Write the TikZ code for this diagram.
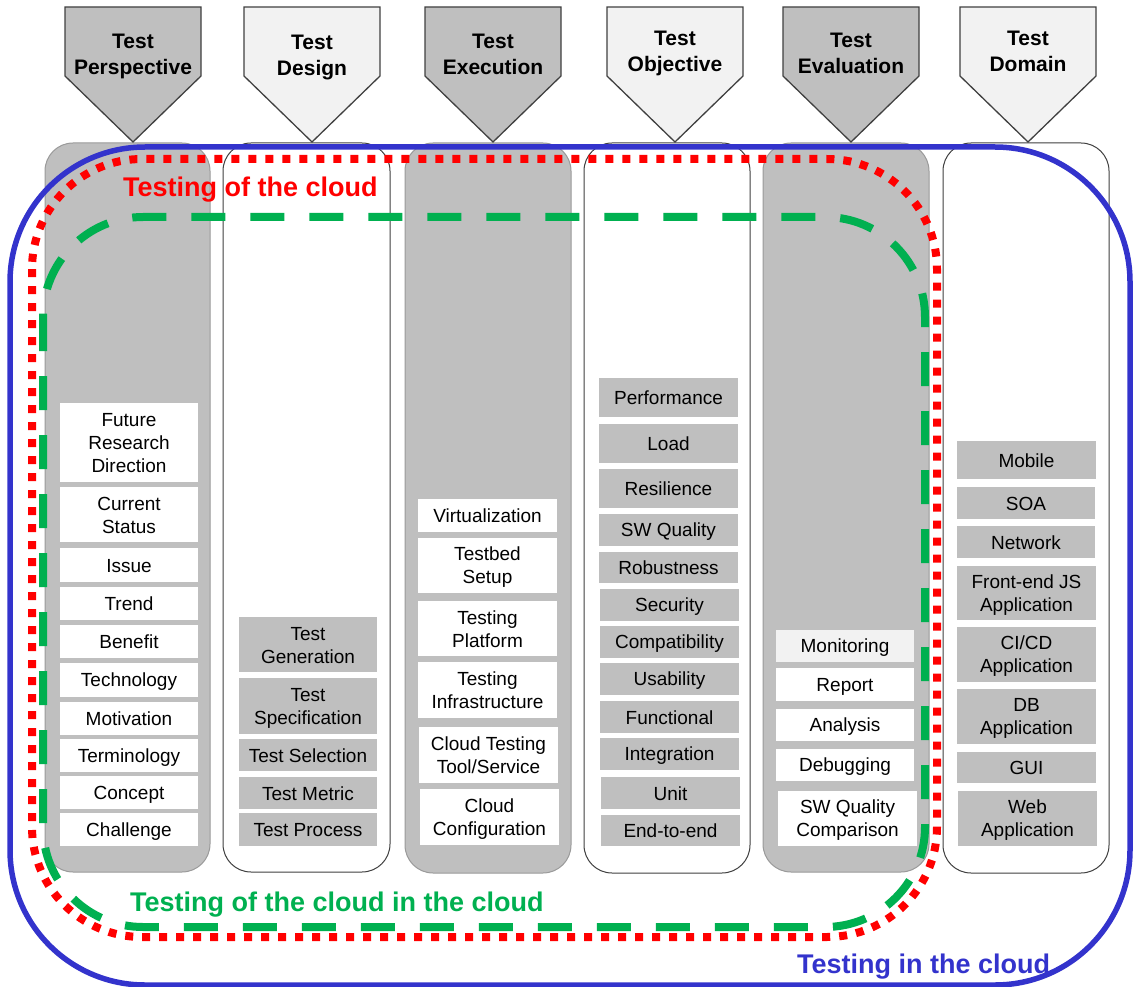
\documentclass[tikz,border=0pt]{standalone}
\usepackage{fontspec}
\setmainfont{Liberation Sans}
\definecolor{cgray}{HTML}{BFBFBF}
\definecolor{clight}{HTML}{F2F2F2}
\definecolor{cdark}{HTML}{404040}
\definecolor{cborder}{HTML}{9A9A9A}
\definecolor{cred}{HTML}{FF0000}
\definecolor{cgreen}{HTML}{00B050}
\definecolor{cblue}{HTML}{3333CC}
\newcommand\lst{\rule[-3pt]{0pt}{20pt}}
\newcommand\hst{\rule[-5pt]{0pt}{18pt}}
\newcommand\itm[7]{\node[#1, minimum width={(#4-#3)*1pt}, minimum height={(#6-#5)*1pt}] (#2) at ({(#3+#4)/2},{(#5+#6)/2}) {#7};}
\newcommand\hdr[5]{% name, tip x, fill, text, baseline of first line
  \draw[hdrshape, fill=#3] ({#2-68},7) -- ({#2+68},7) -- ({#2+68},76) -- (#2,142) -- ({#2-68},76) -- cycle;
  \node[hdrtext] (#1) at (#2,{#5+8.5}) {#4};}
\tikzset{
  itembase/.style={inner sep=0pt, align=center, font=\fontsize{19}{23}\selectfont, text=black},
  wbox/.style={itembase, fill=white},
  gbox/.style={itembase, fill=cgray},
  lbox/.style={itembase, fill=clight},
  hdrshape/.style={draw=cdark, line width=1.3pt, line join=miter},
  hdrtext/.style={align=center, inner sep=0pt, font=\fontsize{21}{26}\selectfont\bfseries},
  gcol/.style={draw=cborder, fill=cgray, line width=1pt, rounded corners=28pt},
  wcol/.style={draw=cdark, fill=white, line width=1pt, rounded corners=28pt},
  bigtext/.style={inner sep=0pt, anchor=base west, font=\fontsize{27}{30}\selectfont\bfseries},
}
\begin{document}
\begin{tikzpicture}[x=1pt,y=-1pt]
\useasboundingbox (0,0) rectangle (1135,987);
% columns
\draw[gcol] (45,143) rectangle (210,872);
\draw[wcol] (223,143) rectangle (390,872);
\draw[gcol] (405,143) rectangle (571,873);
\draw[wcol] (584,143) rectangle (750,873);
\draw[gcol] (763,143) rectangle (929,872);
\draw[wcol] (943,143) rectangle (1109,873);
% headers
\hdr{h1}{133}{cgray}{\hst Test\\\hst Perspective}{48}
\hdr{h2}{312}{clight}{\hst Test\\\hst Design}{49}
\hdr{h3}{493}{cgray}{\hst Test\\\hst Execution}{48}
\hdr{h4}{675}{clight}{\hst Test\\\hst Objective}{45}
\hdr{h5}{851}{cgray}{\hst Test\\\hst Evaluation}{47}
\hdr{h6}{1028}{clight}{\hst Test\\\hst Domain}{45}
% column 1
\itm{wbox}{p1}{60}{198}{403}{482}{\lst Future\\\lst Research\\\lst Direction}
\itm{wbox}{p2}{60}{198}{487}{542}{\lst Current\\\lst Status}
\itm{wbox}{p3}{60}{198}{548}{582}{\lst Issue}
\itm{wbox}{p4}{60}{198}{587}{620}{\lst Trend}
\itm{wbox}{p5}{60}{198}{625}{658}{\lst Benefit}
\itm{wbox}{p6}{60}{198}{663}{697}{\lst Technology}
\itm{wbox}{p7}{60}{198}{702}{735}{\lst Motivation}
\itm{wbox}{p8}{60}{198}{739}{772}{\lst Terminology}
\itm{wbox}{p9}{60}{198}{776}{809}{\lst Concept}
\itm{wbox}{p10}{60}{198}{813}{846}{\lst Challenge}
% column 2
\itm{gbox}{d1}{239}{377}{617}{672}{\lst Test\\\lst Generation}
\itm{gbox}{d2}{239}{377}{678}{734}{\lst Test\\\lst Specification}
\itm{gbox}{d3}{239}{377}{739}{771}{\lst Test Selection}
\itm{gbox}{d4}{239}{377}{777}{809}{\lst Test Metric}
\itm{gbox}{d5}{239}{377}{813}{846}{\lst Test Process}
% column 3
\itm{wbox}{e1}{418}{557}{499}{532}{\lst Virtualization}
\itm{wbox}{e2}{418}{557}{538}{593}{\lst Testbed\\\lst Setup}
\itm{wbox}{e3}{418}{557}{601}{656}{\lst Testing\\\lst Platform}
\itm{wbox}{e4}{418}{557}{662}{718}{\lst Testing\\\lst Infrastructure}
\itm{wbox}{e5}{419}{558}{727}{783}{\lst Cloud Testing\\\lst Tool/Service}
\itm{wbox}{e6}{420}{559}{789}{845}{\lst Cloud\\\lst Configuration}
% column 4
\itm{gbox}{o1}{599}{738}{378}{417}{\lst Performance}
\itm{gbox}{o2}{599}{738}{424}{463}{\lst Load}
\itm{gbox}{o3}{599}{738}{469}{508}{\lst Resilience}
\itm{gbox}{o4}{599}{738}{514}{546}{\lst SW Quality}
\itm{gbox}{o5}{599}{738}{552}{583}{\lst Robustness}
\itm{gbox}{o6}{600}{739}{589}{621}{\lst Security}
\itm{gbox}{o7}{600}{739}{626}{658}{\lst Compatibility}
\itm{gbox}{o8}{600}{739}{663}{695}{\lst Usability}
\itm{gbox}{o9}{600}{739}{701}{733}{\lst Functional}
\itm{gbox}{o10}{600}{739}{738}{770}{\lst Integration}
\itm{gbox}{o11}{601}{740}{777}{809}{\lst Unit}
\itm{gbox}{o12}{601}{740}{815}{846}{\lst End-to-end}
% column 5
\itm{lbox}{v1}{776}{914}{630}{662}{\lst Monitoring}
\itm{wbox}{v2}{776}{914}{668}{701}{\lst Report}
\itm{wbox}{v3}{776}{914}{709}{741}{\lst Analysis}
\itm{wbox}{v4}{776}{914}{749}{781}{\lst Debugging}
\itm{wbox}{v5}{778}{917}{791}{846}{\lst SW Quality\\\lst Comparison}
% column 6
\itm{gbox}{m1}{957}{1096}{441}{479}{\lst Mobile}
\itm{gbox}{m2}{957}{1095}{487}{519}{\lst SOA}
\itm{gbox}{m3}{957}{1095}{526}{558}{\lst Network}
\itm{gbox}{m4}{957}{1096}{566}{620}{\lst Front-end JS\\\lst Application}
\itm{gbox}{m5}{957}{1096}{627}{682}{\lst CI/CD\\\lst Application}
\itm{gbox}{m6}{957}{1096}{689}{744}{\lst DB\\\lst Application}
\itm{gbox}{m7}{957}{1096}{752}{783}{\lst GUI}
\itm{gbox}{m8}{958}{1097}{791}{846}{\lst Web\\\lst Application}
% boundaries
\draw[cblue, line width=5.5pt, rounded corners=135pt] (10,147) rectangle (1130,985);
\draw[cred, line width=8pt, dash pattern=on 8pt off 9pt, rounded corners=110pt] (32,159) rectangle (937,937);
\draw[cgreen, line width=8pt, dash pattern=on 34pt off 25pt, rounded corners=100pt] (43,217) rectangle (925,927);
% labels
\node[bigtext, text=cred] (l1) at (123,197) {Testing of the cloud};
\node[bigtext, text=cgreen] (l2) at (130,911) {Testing of the cloud in the cloud};
\node[bigtext, text=cblue] (l3) at (797,973) {Testing in the cloud};
\end{tikzpicture}
\end{document}
